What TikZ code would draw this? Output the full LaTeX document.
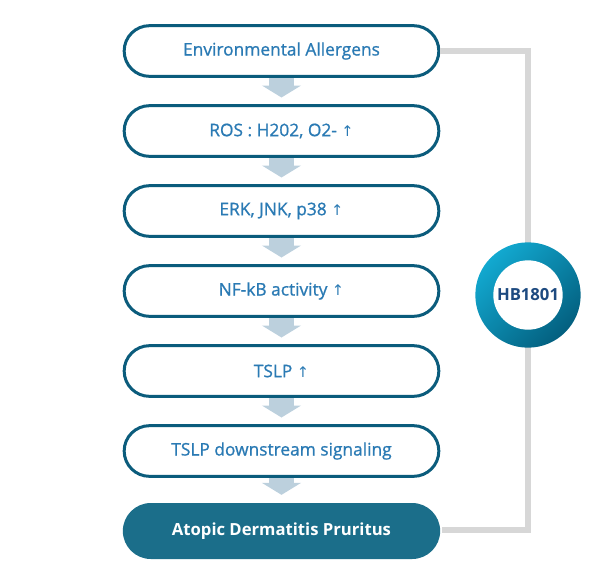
\documentclass[tikz,border=0pt]{standalone}
\usepackage{fontspec}
\setmainfont{Open Sans}
\newfontfamily\boxfont{Open Sans}[FakeBold=0.9]
\newfontfamily\arrowfont{DejaVu Sans}
\usetikzlibrary{arrows.meta}
\definecolor{boxline}{HTML}{0B5C7C}
\definecolor{boxtext}{HTML}{2A7AB4}
\definecolor{endfill}{HTML}{1B6E8A}
\definecolor{arrowfill}{HTML}{BCD0DD}
\definecolor{linegray}{HTML}{D7D7D7}
\definecolor{ringlight}{HTML}{12A9D0}
\definecolor{ringdark}{HTML}{035F7F}
\definecolor{hbtext}{HTML}{1D4A80}
\newcommand{\upmark}{{\arrowfont\fontsize{11pt}{13pt}\selectfont ↑}}

\begin{document}
\begin{tikzpicture}[x=0.75pt, y=-0.75pt,
	flowbox/.style={shape=rectangle, draw=boxline, line width=2.25pt, fill=white, rounded corners=19pt, minimum width=236pt, minimum height=38pt, text=boxtext, font=\boxfont\fontsize{13pt}{15pt}\selectfont},
	endbox/.style={flowbox, draw=none, fill=endfill, minimum width=238pt, minimum height=42pt, rounded corners=21pt, text=white, font=\fontsize{12.5pt}{15pt}\selectfont\bfseries},
	flowarrow/.style={draw=arrowfill, line width=18.75pt, -{Triangle[width=29pt, length=9pt, fill=arrowfill]}, shorten >=5pt},
	grayline/.style={draw=linegray, line width=4.5pt},
	hbring/.style={shape=circle, minimum size=79pt, inner sep=0pt, top color=ringlight, bottom color=ringdark, shading angle=45, text=hbtext, font=\fontsize{12.5pt}{15pt}\selectfont\bfseries,
		path picture={\fill[white] (path picture bounding box.center) circle (26pt);}}]
	\useasboundingbox (0,0) rectangle (590,587);
	% Boxes:
	\node[flowbox] (env) at (281.5, 51) {Environmental Allergens};
	\node[flowbox] (ros) at (281.5, 131) {ROS : H202, O2- \upmark};
	\node[flowbox] (erk) at (281.5, 211) {ERK, JNK, p38 \upmark};
	\node[flowbox] (nfkb) at (281.5, 291) {NF-kB activity \upmark};
	\node[flowbox] (tslp) at (281.5, 371) {TSLP \upmark};
	\node[flowbox] (down) at (281.5, 451) {TSLP downstream signaling};
	\node[endbox] (ad) at (281.5, 531) {Atopic Dermatitis Pruritus};
	% Arrows and side line:
	\draw[flowarrow] (env.south) -- (ros.north);
	\draw[flowarrow] (ros.south) -- (erk.north);
	\draw[flowarrow] (erk.south) -- (nfkb.north);
	\draw[flowarrow] (nfkb.south) -- (tslp.north);
	\draw[flowarrow] (tslp.south) -- (down.north);
	\draw[flowarrow] (down.south) -- (ad.north);
	\coordinate (topturn) at (528, 51);
	\coordinate (botturn) at (528, 530);
	\draw[grayline] (env.east) -- (topturn) -- (botturn) -- (ad.east |- botturn);
	\node[hbring] (hb) at (528, 295) {HB1801};
\end{tikzpicture}
\end{document}
